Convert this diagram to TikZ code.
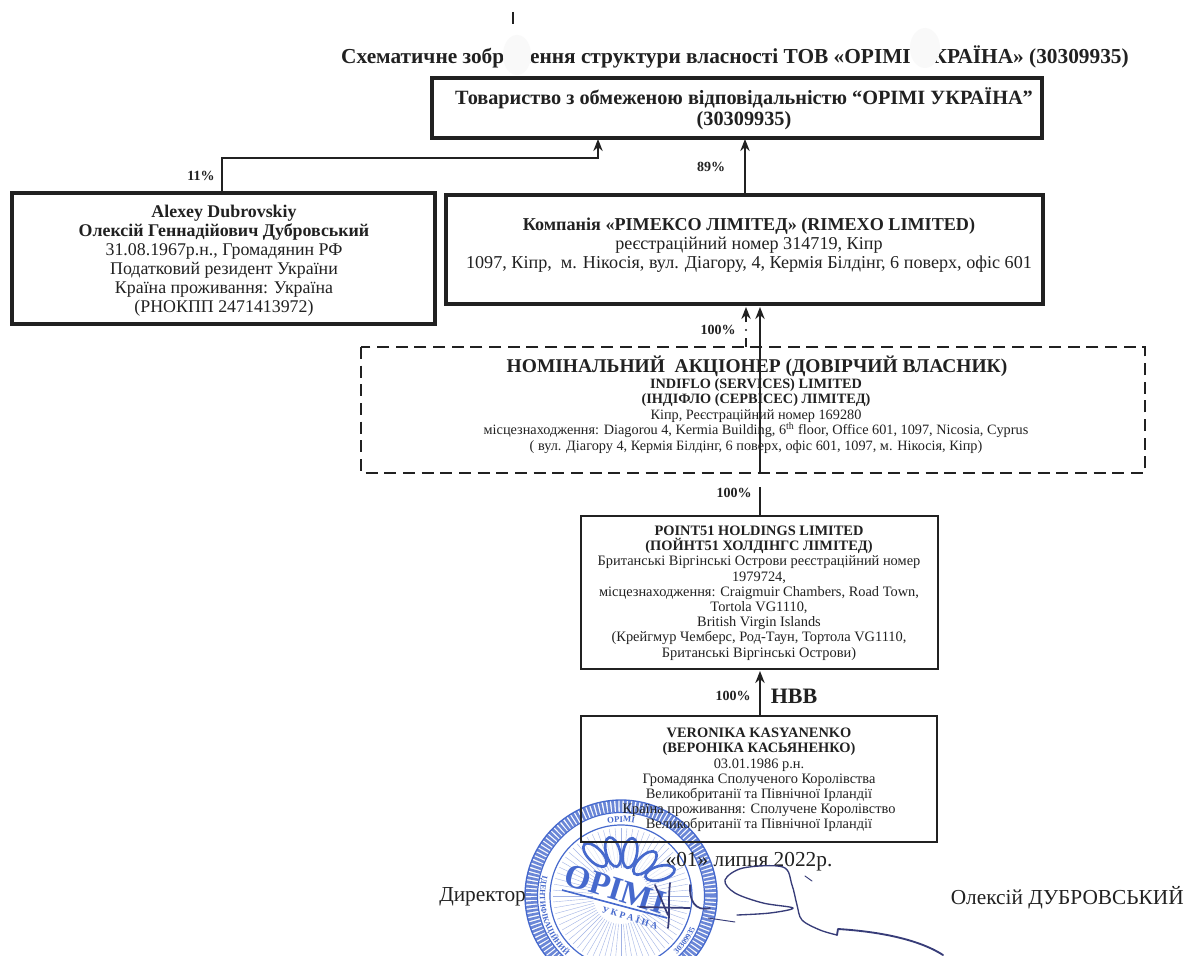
\documentclass[tikz,border=0pt]{standalone}
\usepackage{fontspec}
\setmainfont{Liberation Serif}
\usetikzlibrary{arrows.meta,decorations.text,calc}
\definecolor{ink}{gray}{0.13}
\definecolor{stampblue}{RGB}{70,105,205}
\definecolor{signblue}{RGB}{55,60,120}
\tikzset{
  x=0.75pt,y=-0.75pt,
  txt/.style={inner sep=0pt,align=center,text=ink},
  boxa/.style={draw=ink,line width=3pt,fill=none},
  boxb/.style={draw=ink,line width=2pt},
  conn/.style={draw=ink,line width=1.6pt},
  tip/.style={-{Stealth[length=9pt,width=7pt]}},
  pct/.style={inner sep=0pt,text=ink,font=\bfseries\fontsize{10.5}{12}\selectfont},
  sign/.style={draw=signblue,line width=1pt,line cap=round,line join=round},
  petal/.style={draw=stampblue,line width=2pt,fill=white,fill opacity=.6},
}
\begin{document}
\begin{tikzpicture}
\useasboundingbox (0,0) rectangle (1196,956);
\fill[white] (0,0) rectangle (1196,956);
\clip (0,0) rectangle (1196,956);

% stamp
\coordinate (sc) at (621,896);
\begin{scope}[shift={(sc)},y=0.75pt,stampblue]
\foreach \a in {0,5,...,355}
  \draw[line width=.3pt,opacity=.5] (\a:28) -- (\a:68);
\draw[line width=9pt,dash pattern=on 2pt off 1pt,opacity=.8] (0,0) circle (90);
\draw[line width=1pt] (0,0) circle (96);
\draw[line width=.9pt] (0,0) circle (83.5);
\draw[line width=.9pt] (0,0) circle (71);
\path[decorate,decoration={text along path,text align=center,
  text={|\fontsize{6.5}{8}\bfseries\selectfont\color{stampblue}|ОРІМІ}}]
  (110:74) arc[start angle=110,end angle=70,radius=74];
\path[decorate,decoration={text along path,text align=center,
  text={|\fontsize{6}{7}\bfseries\selectfont\color{stampblue}|ІДЕНТИФІКАЦІЙНИЙ}}]
  (165:81) arc[start angle=165,end angle=228,radius=81];
\path[decorate,decoration={text along path,text align=center,
  text={|\fontsize{6}{7}\bfseries\selectfont\color{stampblue}|30309935}}]
  (305:81) arc[start angle=305,end angle=345,radius=81];
\end{scope}
\draw[petal] (595,855) ellipse[x radius=15,y radius=7,rotate=135];
\draw[petal] (613,852) ellipse[x radius=15,y radius=7,rotate=105];
\draw[petal] (630,853) ellipse[x radius=15,y radius=7,rotate=80];
\draw[petal] (645,863) ellipse[x radius=15,y radius=7,rotate=45];
\draw[petal] (660,873) ellipse[x radius=15,y radius=7,rotate=15];
\node[inner sep=0pt,rotate=-17,text=stampblue,font=\bfseries\fontsize{25}{26}\selectfont] (stampname) at (615,889) {ОРІМІ};
\draw[stampblue,line width=1.2pt] (562,890) -- (667,918);
\node[inner sep=0pt,rotate=-17,text=stampblue,font=\bfseries\fontsize{7}{8}\selectfont] (stampua) at (630,917) {У К Р А Ї Н А};

% boxes
\draw[boxa] (432,78) rectangle (1042,138);
\draw[boxa] (12,193) rectangle (435,324);
\draw[boxa] (446,195) rectangle (1043,304);
\draw[draw=ink,line width=1.6pt,dash pattern=on 9pt off 5pt] (361,347) rectangle (1145,473);
\draw[boxb] (581,516) rectangle (938,669);
\draw[boxb] (581,716) rectangle (937,842);

% named anchors
\coordinate (topA) at (598,139);
\coordinate (topB) at (745,139);
\coordinate (dubN) at (222,192);
\coordinate (rimN) at (745,194);
\coordinate (rimA) at (746,307);
\coordinate (rimB) at (760,307);
\coordinate (nomS) at (760,473);
\coordinate (ptN) at (760,487);
\coordinate (ptN2) at (760,516);
\coordinate (ptS) at (760,671);
\coordinate (verN) at (760,716);

% connectors
\draw[conn,tip] (dubN) |- (598,158) -- (topA);
\draw[conn,tip] (rimN) -- (topB);
\draw[conn,tip] (760,323) -- (rimB);
\draw[conn,line width=1.2pt,tip] (746,322) -- (rimA);
\fill[ink] (746,330) circle (1.1);
\draw[conn,line width=1.2pt] (746,338) -- (746,347);
\draw[conn,line width=2pt] (760,323) -- (nomS);
\draw[conn] (ptN) -- (ptN2);
\draw[conn,tip] (verN) -- (ptS);

% percents
\node[pct] (p11) at (201,176) {11\%};
\node[pct] (p89) at (711,167) {89\%};
\node[pct] (p100a) at (718,330) {100\%};
\node[pct] (p100b) at (734,493) {100\%};
\node[pct] (p100c) at (733,696) {100\%};
\node[inner sep=0pt,text=ink,font=\bfseries\fontsize{16.5}{18}\selectfont] (hbb) at (794,696) {НВВ};

% title
\node[txt,font=\bfseries\fontsize{16}{19}\selectfont] (title) at (735,57) {Схематичне зображення структури власності ТОВ «ОРІМІ УКРАЇНА» (30309935)};
\fill[gray!5] (517,55) ellipse (14 and 20);
\fill[gray!5] (925,48) ellipse (15 and 20);
\draw[ink,line width=0.9pt] (513,12) -- (513,24);

\node[txt,font=\bfseries\fontsize{15.2}{15.75}\selectfont] (topT) at (744,109) {Товариство з обмеженою відповідальністю “ОРІМІ УКРАЇНА”\\(30309935)};

\node[txt,font=\fontsize{13.4}{14.25}\selectfont] (dubT) at (224,261) {\textbf{Alexey Dubrovskiy}\\\textbf{Олексій Геннадійович Дубровський}\\31.08.1967р.н., Громадянин РФ\\Податковий резидент України\\Країна проживання: Україна\\(РНОКПП 2471413972)};

\node[txt,font=\fontsize{13.6}{14.25}\selectfont] (rimT) at (749,245) {\textbf{Компанія «РІМЕКСО ЛІМІТЕД» (RIMEXO LIMITED)}\\реєстраційний номер 314719, Кіпр\\1097, Кіпр,\ \ м. Нікосія, вул. Діагору, 4, Кермія Білдінг, 6 поверх, офіс 601};

\node[txt,font=\bfseries\fontsize{14.6}{17}\selectfont] (nomH) at (757,366) {НОМІНАЛЬНИЙ\ \ АКЦІОНЕР (ДОВІРЧИЙ ВЛАСНИК)};
\node[txt,font=\fontsize{10.7}{11.6}\selectfont] (nomT) at (756,416) {\textbf{INDIFLO (SERVICES) LIMITED}\\\textbf{(ІНДІФЛО (СЕРВІСЕС) ЛІМІТЕД)}\\Кіпр, Реєстраційний номер 169280\\місцезнаходження: Diagorou 4, Kermia Building, 6\textsuperscript{th} floor, Office 601, 1097, Nicosia, Cyprus\\( вул. Діагору 4, Кермія Білдінг, 6 поверх, офіс 601, 1097, м. Нікосія, Кіпр)};

\node[txt,font=\fontsize{10.8}{11.4}\selectfont] (ptT) at (759,593) {\textbf{POINT51 HOLDINGS LIMITED}\\\textbf{(ПОЙНТ51 ХОЛДІНГС ЛІМІТЕД)}\\Британські Віргінські Острови реєстраційний номер\\1979724,\\місцезнаходження: Craigmuir Chambers, Road Town,\\Tortola VG1110,\\British Virgin Islands\\(Крейгмур Чемберс, Род-Таун, Тортола VG1110,\\Британські Віргінські Острови)};

\node[txt,font=\fontsize{10.8}{11.4}\selectfont] (verT) at (759,780) {\textbf{VERONIKA KASYANENKO}\\\textbf{(ВЕРОНІКА КАСЬЯНЕНКО)}\\03.01.1986 р.н.\\Громадянка Сполученого Королівства\\Великобританії та Північної Ірландії\\Країна проживання: Сполучене Королівство\\Великобританії та Північної Ірландії};

% footer
\node[txt,font=\fontsize{16}{18}\selectfont] (date) at (749,862) {«01» липня 2022р.};
\node[txt,font=\fontsize{16}{18}\selectfont,anchor=west] (dir) at (439,897) {Директор};
\node[txt,font=\fontsize{16}{18}\selectfont,anchor=east] (name) at (1184,898) {Олексій ДУБРОВСЬКИЙ};

% signature
\draw[sign] plot[smooth,tension=.55] coordinates {(737,915) (770,913) (793,908) (763,903) (735,893) (725,880) (743,868) (783,867) (792,885) (797,905) (802,920) (820,930) (837,935)};
\draw[sign,line width=1.4pt] (837,935) -- (838,929) .. controls (870,931) and (915,937) .. (943,955);
\draw[sign,line width=.7pt] (708,918) -- (735,922);
\draw[sign,line width=.7pt] (805,876) -- (812,881);
\draw[sign,line width=1.3pt] (670,883) .. controls (668,900) and (670,915) .. (668,928);
\draw[sign,line width=1.3pt] (640,907) -- (690,908);
\draw[sign,line width=1.3pt] (655,885) -- (668,915);
\draw[sign,line width=1.3pt] (690,885) .. controls (689,900) and (695,912) .. (710,908);
\end{tikzpicture}
\end{document}
